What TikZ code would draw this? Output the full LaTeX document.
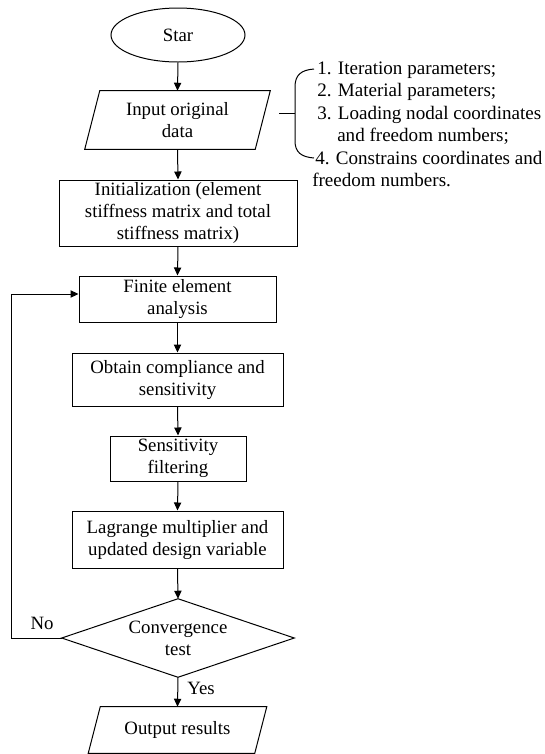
\documentclass[tikz,border=0pt]{standalone}
\usepackage{fontspec}
\setmainfont{Liberation Serif}
\usetikzlibrary{arrows.meta,calc,shapes.geometric}
\begin{document}
\begin{tikzpicture}[x=0.75pt,y=-0.75pt,
  every node/.style={font=\fontsize{14.1pt}{16.5pt}\selectfont, inner sep=0pt},
  flowbox/.style={draw, line width=0.75pt, align=center},
  ghost/.style={align=center},
  conn/.style={line width=0.75pt, -{Triangle[length=6pt,width=5.5pt]}},
  plain/.style={line width=0.75pt},
  sidetext/.style={font=\fontsize{14.3pt}{16.9pt}\selectfont, anchor=base west}]
\useasboundingbox (0,0) rectangle (545,754);

% start
\node[ellipse, draw, line width=0.75pt, minimum width=100.5pt, minimum height=40.5pt] (star) at (178,35) {Star};

% input
\node[ghost, minimum width=127.5pt, minimum height=43.5pt] (input) at (177.5,120) {Input original\\data};
\draw[plain] ($(input.north west)+(7.5,0)$) -- ($(input.north east)+(7.5,0)$) -- ($(input.south east)+(-7.5,0)$) -- ($(input.south west)+(-7.5,0)$) -- cycle;

\node[flowbox, minimum width=178.5pt, minimum height=49.5pt] (init) at (178,213) {Initialization (element\\stiffness matrix and total\\stiffness matrix)};
\node[flowbox, minimum width=147.75pt, minimum height=34.5pt] (fea) at (177.5,299) {Finite element\\analysis};
\node[flowbox, minimum width=158.25pt, minimum height=39.75pt] (obtain) at (177.5,379.5) {Obtain compliance and\\sensitivity};
\node[flowbox, minimum width=102pt, minimum height=33.75pt] (sens) at (178,458.5) {Sensitivity\\filtering};
\node[flowbox, minimum width=158.25pt, minimum height=42.75pt] (lag) at (177.5,539.5) {Lagrange multiplier and\\updated design variable};

% decision
\node[ghost, minimum width=174pt, minimum height=58.5pt] (dia) at (178,638) {Convergence\\test};
\draw[plain] (dia.north) -- (dia.east) -- (dia.south) -- (dia.west) -- cycle;

% output
\node[ghost, minimum width=124.5pt, minimum height=34.5pt] (out) at (177.5,730) {Output results};
\draw[plain] ($(out.north west)+(6,0)$) -- ($(out.north east)+(6,0)$) -- ($(out.south east)+(-6,0)$) -- ($(out.south west)+(-6,0)$) -- cycle;

% connectors
\draw[conn] (star.south) -- (input.north);
\draw[conn] (input.south) -- (init.north);
\draw[conn] (init.south) -- (fea.north);
\draw[conn] (fea.south) -- (obtain.north);
\draw[conn] (obtain.south) -- (sens.north);
\draw[conn] (sens.south) -- (lag.north);
\draw[conn] (lag.south) -- (dia.north);
\draw[conn] (dia.south) -- (out.north);
\draw[conn] (dia.west) -- ++(-50,0) |- ($(fea.west)+(0,-5)$);

\node (no) at (42,623) {No};
\node (yes) at (201,688) {Yes};

% bracket
\coordinate (btop) at (314,69);
\coordinate (bbot) at (314,158);
\coordinate (bmid) at (295,113);
\coordinate (tick) at (279,113);
\draw[plain] (btop) .. controls (301,70) and (295,75) .. (295,87) -- (295,141) .. controls (295,152) and (301,157) .. (bbot);
\draw[plain] (tick) -- (bmid);

\node[sidetext] (r1) at (317,74) {1. Iteration parameters;};
\node[sidetext] (r2) at (317,96.5) {2. Material parameters;};
\node[sidetext] (r3) at (317,119) {3. Loading nodal coordinates};
\node[sidetext] (r4) at (337,141.5) {and freedom numbers;};
\node[sidetext] (r5) at (315,164) {4. Constrains coordinates and};
\node[sidetext] (r6) at (312,186.5) {freedom numbers.};
\end{tikzpicture}
\end{document}
